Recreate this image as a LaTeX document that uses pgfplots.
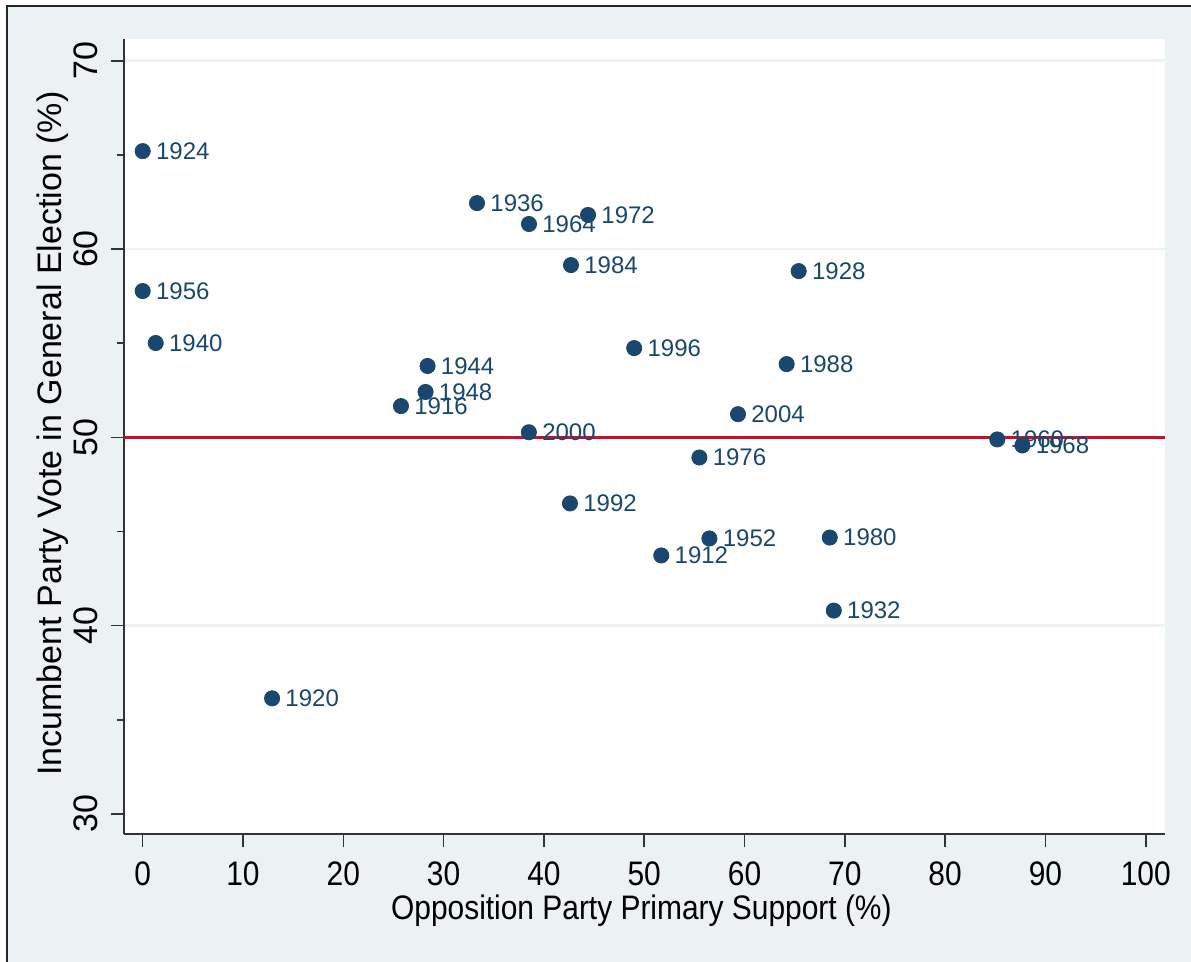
\documentclass[border=0pt]{standalone}
\usepackage{fontspec}
\setmainfont{Liberation Sans}
\newfontfamily\xfont[FakeStretch=0.88]{Liberation Sans}
\usepackage{pgfplots}
\pgfplotsset{compat=1.18}
\definecolor{bgc}{RGB}{234,242,243}
\definecolor{navy}{RGB}{26,71,111}
\definecolor{cran}{RGB}{200,16,46}
\pgfplotstableread{
x y lab
0.0 65.2 1924
33.33 62.44 1936
38.51 61.33 1964
44.4 61.81 1972
42.7 59.15 1984
65.4 58.83 1928
0.0 57.77 1956
1.3 55.01 1940
49.0 54.74 1996
64.2 53.89 1988
28.4 53.79 1944
28.2 52.41 1948
25.75 51.66 1916
59.35 51.23 2004
38.5 50.27 2000
85.2 49.89 1960
87.7 49.57 1968
55.5 48.93 1976
42.6 46.49 1992
56.5 44.63 1952
68.5 44.68 1980
51.7 43.73 1912
68.9 40.8 1932
12.9 36.14 1920
}\pts
\begin{document}
\begin{tikzpicture}
\path[use as bounding box] (0,0) rectangle (595.5pt,481pt);
\fill[white] (0,0) rectangle (595.5pt,481pt);
\fill[bgc] (3.4pt,0) rectangle (595.5pt,477.8pt);
\draw[line width=0.9pt, black!85] (3.4pt,-1pt) -- (3.4pt,477.8pt) -- (597pt,477.8pt);
\begin{axis}[
  at={(62pt,63.85pt)}, anchor=south west,
  scale only axis, width=520.5pt, height=397.5pt,
  xmin=-1.864, xmax=101.92, ymin=28.92, ymax=71.14,
  axis x line*=bottom, axis y line*=left,
  axis line style={line width=0.9pt, black!80},
  axis background/.style={fill=white},
  xtick={0,10,...,100},
  ytick={40,50,60,70},
  extra y ticks={30},
  extra y tick style={grid=none},
  minor ytick={35,45,55,65},
  ymajorgrids,
  grid style={bgc, line width=1.3pt},
  tick align=outside,
  major tick length=6.5pt, minor tick length=3.5pt,
  every tick/.style={line width=0.8pt, black!80},
  /pgf/number format/assume math mode=true,
  xticklabel shift=7pt,
  yticklabel shift=6.5pt,
  xticklabel style={font=\xfont\fontsize{17}{20}\selectfont, anchor=north, inner sep=0pt},
  yticklabel style={font=\fontsize{17}{20}\selectfont, rotate=90, anchor=south, inner sep=0pt},
  xlabel={Opposition Party Primary Support (\%)},
  ylabel={Incumbent Party Vote in General Election (\%)},
  every axis x label/.style={at={(axis description cs:0.497,-0.1078)}, anchor=base, font=\xfont\fontsize{17}{20}\selectfont, inner sep=0pt},
  every axis y label/.style={at={(axis description cs:-0.0682,0.504)}, anchor=center, rotate=90, font=\fontsize{17}{20}\selectfont, inner sep=0pt},
  clip=false,
]
\addplot[cran, line width=1.5pt, forget plot] coordinates {(-1.864,50) (101.92,50)};
\addplot[only marks, mark=*, mark size=3.8pt, navy, mark options={fill=navy, draw=navy},
  nodes near coords, point meta=explicit symbolic,
  every node near coord/.append style={anchor=west, inner sep=0pt, xshift=6.5pt, font=\fontsize{12}{14}\selectfont, text=navy}]
  table[x=x, y=y, meta=lab] {\pts};
\end{axis}
\end{tikzpicture}
\end{document}
